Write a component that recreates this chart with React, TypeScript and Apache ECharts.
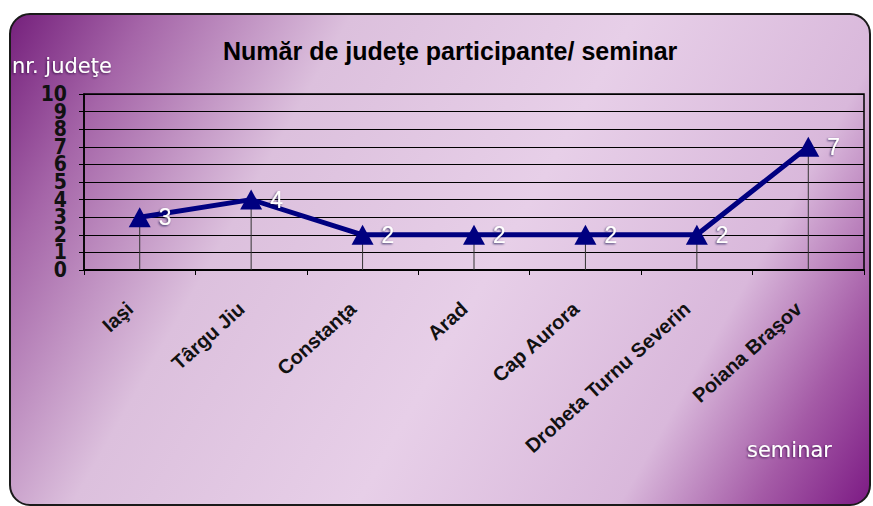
import React, { useEffect, useRef } from "react";
import * as echarts from "echarts";

const categories = [
  "Iaşi",
  "Târgu Jiu",
  "Constanţa",
  "Arad",
  "Cap Aurora",
  "Drobeta Turnu Severin",
  "Poiana Braşov",
];
const participants = [3, 4, 2, 2, 2, 2, 7];
const yMin = 0;
const yMax = 10;
const yStep = 1;
const yLabelsEven = [0, 2, 4, 6, 8, 10];
const yLabelsOdd = [1, 3, 5, 7, 9];

const titleText = "Număr de judeţe participante/ seminar";
const yAxisTitle = "nr. judeţe";
const xAxisTitle = "seminar";

export default function App() {
  const ref = useRef<HTMLDivElement>(null);

  useEffect(() => {
    if (!ref.current) return;
    const chart = echarts.init(ref.current, undefined, { renderer: "svg" });

    const bg = new echarts.graphic.LinearGradient(
      10,
      14,
      870,
      505,
      [
        { offset: 0, color: "#75207c" },
        { offset: 0.12, color: "#a565a8" },
        { offset: 0.3, color: "#dcc0dd" },
        { offset: 0.55, color: "#e7cfe8" },
        { offset: 0.78, color: "#d9b8db" },
        { offset: 0.9, color: "#a45aa6" },
        { offset: 1, color: "#7c1a84" },
      ],
      true
    );

    const whiteText = {
      fill: "#ffffff",
      fontSize: 21,
      fontFamily: "'DejaVu Sans', sans-serif",
      textShadowColor: "rgba(40,0,60,0.7)",
      textShadowBlur: 2,
      textShadowOffsetX: -1,
      textShadowOffsetY: 1,
    };

    const yLabelStyle = {
      margin: 17,
      fontSize: 21,
      lineHeight: 16,
      fontWeight: "bold",
      fontFamily:
        "'Liberation Sans Narrow', 'DejaVu Sans Condensed', 'Liberation Sans', sans-serif",
      color: "#111",
      showMinLabel: true,
      showMaxLabel: true,
    };

    chart.setOption({
      animation: false,
      title: {
        text: titleText,
        left: 218,
        top: 33,
        textStyle: {
          fontSize: 25,
          fontWeight: "bold",
          fontFamily: "'Liberation Sans', Arial, sans-serif",
          color: "#000",
        },
      },
      graphic: [
        {
          type: "rect",
          z: -100,
          shape: { x: 10, y: 14, width: 860, height: 491, r: 20 },
          style: { fill: bg, stroke: "#1a1a1a", lineWidth: 2 },
          silent: true,
        },
        {
          type: "text",
          x: 12,
          y: 66,
          style: { ...whiteText, text: yAxisTitle, verticalAlign: "middle" },
          silent: true,
        },
        {
          type: "text",
          x: 747,
          y: 450,
          style: { ...whiteText, text: xAxisTitle, verticalAlign: "middle" },
          silent: true,
        },
      ],
      grid: {
        left: 84,
        right: 9,
        top: 94,
        bottom: 236,
        show: true,
        borderColor: "#000",
        borderWidth: 1.5,
        backgroundColor: "transparent",
      },
      xAxis: {
        type: "category",
        data: categories,
        boundaryGap: true,
        axisLine: { show: true, lineStyle: { color: "#000", width: 2 } },
        axisTick: { show: true, length: 5, lineStyle: { color: "#000", width: 1 } },
        axisLabel: {
          interval: 0,
          rotate: 42,
          margin: 27,
          padding: [0, 13, 0, 0],
          fontSize: 20,
          fontWeight: "bold",
          fontFamily: "'Liberation Sans', Arial, sans-serif",
          color: "#111",
        },
        splitLine: { show: false },
      },
      yAxis: [
        {
          type: "value",
          min: yMin,
          max: yMax,
          interval: yStep,
          position: "left",
          axisLine: { show: true, lineStyle: { color: "#000", width: 1.5 } },
          axisTick: { show: true, length: 5, lineStyle: { color: "#000", width: 1 } },
          axisLabel: { ...yLabelStyle, customValues: yLabelsEven },
          splitLine: { show: true, lineStyle: { color: "#000", width: 1 } },
        },
        {
          type: "value",
          min: yMin,
          max: yMax,
          interval: yStep,
          position: "left",
          offset: 0,
          axisLine: { show: false },
          axisTick: { show: false },
          axisLabel: { ...yLabelStyle, customValues: yLabelsOdd },
          splitLine: { show: false },
        },
      ],
      series: [
        {
          type: "bar",
          data: participants,
          barWidth: 1,
          silent: true,
          z: 1,
          itemStyle: { color: "#333" },
        },
        {
          type: "line",
          data: participants,
          z: 3,
          symbol: "triangle",
          symbolSize: [22, 20],
          lineStyle: { color: "#000080", width: 5 },
          itemStyle: { color: "#000080" },
          label: {
            show: true,
            position: "right",
            distance: 8,
            color: "#ffffff",
            fontSize: 23,
            fontFamily: "'Liberation Sans', Arial, sans-serif",
            textShadowColor: "rgba(0,0,60,0.75)",
            textShadowBlur: 2,
            textShadowOffsetX: -1,
            textShadowOffsetY: 1,
          },
        },
      ],
    });

    return () => chart.dispose();
  }, []);

  return (
    <div
      ref={ref}
      style={{ position: "absolute", left: 0, top: 0, width: 873, height: 506 }}
    />
  );
}
